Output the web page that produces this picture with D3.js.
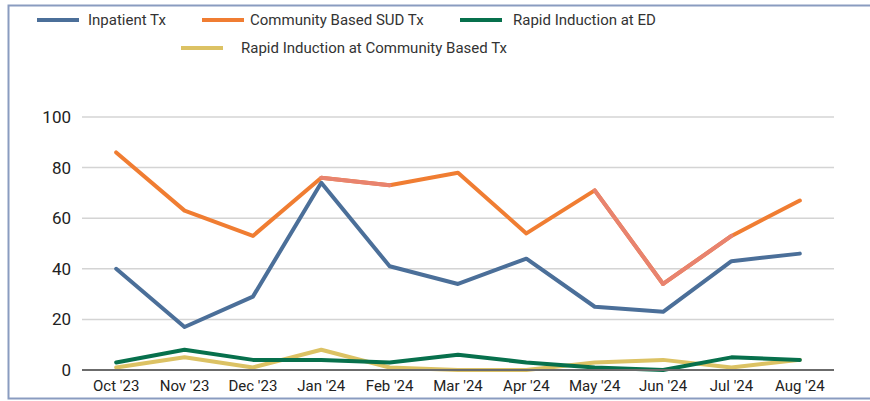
<!DOCTYPE html>
<html>
<head>
<meta charset="utf-8">
<script src="https://cdn.jsdelivr.net/npm/d3@7"></script>
<style>
  body { margin: 0; background: #fff; }
  svg { display: block; font-family: Roboto, "Liberation Sans", sans-serif; }
</style>
</head>
<body>
<svg id="chart" width="870" height="401"></svg>
<script>
const months = ["Oct '23", "Nov '23", "Dec '23", "Jan '24", "Feb '24", "Mar '24", "Apr '24", "May '24", "Jun '24", "Jul '24", "Aug '24"];
const inpatient = [40, 17, 29, 74, 41, 34, 44, 25, 23, 43, 46];
const community = [86, 63, 53, 76, 73, 78, 54, 71, 34, 53, 67];
const rapidED = [3, 8, 4, 4, 3, 6, 3, 1, 0, 5, 4];
const rapidCommunity = [1, 5, 1, 8, 1, 0, 0, 3, 4, 1, 4];
const yTicks = [0, 20, 40, 60, 80, 100];
// segments of the orange line drawn in the lighter salmon tone (index of start point)
const salmonSegments = [3, 7, 8];

const series = [
  {name: "Inpatient Tx", values: inpatient, color: "#4b6f99"},
  {name: "Community Based SUD Tx", values: community, color: "#f07d32"},
  {name: "Rapid Induction at ED", values: rapidED, color: "#07704c"},
  {name: "Rapid Induction at Community Based Tx", values: rapidCommunity, color: "#dcc264"}
];

const svg = d3.select('#chart');

// frame
svg.append('rect')
  .attr('x', 8.5).attr('y', 5.5)
  .attr('width', 900).attr('height', 393)
  .attr('fill', 'none')
  .attr('stroke', '#8a9cc0')
  .attr('stroke-width', 2);

const x = d3.scaleBand().domain(months).range([82, 834]);
const y = d3.scaleLinear().domain([0, 100]).range([370, 117]);

// gridlines
svg.append('g')
  .selectAll('line')
  .data(yTicks.filter(d => d > 0))
  .join('line')
  .attr('x1', 82).attr('x2', 834)
  .attr('y1', d => y(d)).attr('y2', d => y(d))
  .attr('stroke', '#d4d4d4')
  .attr('stroke-width', 1.5);

// y labels
svg.append('g')
  .selectAll('text')
  .data(yTicks)
  .join('text')
  .attr('x', 71)
  .attr('y', d => y(d) + 6)
  .attr('text-anchor', 'end')
  .attr('font-size', 17)
  .attr('fill', '#222')
  .text(d => d);

// x labels
svg.append('g')
  .selectAll('text')
  .data(months)
  .join('text')
  .attr('x', d => x(d) + x.bandwidth() / 2)
  .attr('y', 391)
  .attr('text-anchor', 'middle')
  .attr('font-size', 15)
  .attr('fill', '#222')
  .text(d => d);

const line = d3.line()
  .x((d, i) => x(months[i]) + x.bandwidth() / 2)
  .y(d => y(d));

const lines = svg.append('g').attr('fill', 'none').attr('stroke-width', 4)
  .attr('stroke-linejoin', 'round').attr('stroke-linecap', 'round');

// draw the small series first, then the big ones on top
[series[3], series[2], series[0], series[1]].forEach(s => {
  lines.append('path')
    .attr('d', line(s.values))
    .attr('stroke', s.color);
});

// lighter salmon segments of community line
salmonSegments.forEach(i => {
  const pts = [community[i], community[i + 1]];
  lines.append('path')
    .attr('d', d3.line()
      .x((d, j) => x(months[i + j]) + x.bandwidth() / 2)
      .y(d => y(d))(pts))
    .attr('stroke', '#e8836f');
});

// baseline
svg.append('line')
  .attr('x1', 82).attr('x2', 834)
  .attr('y1', y(0)).attr('y2', y(0))
  .attr('stroke', '#6b6b6b')
  .attr('stroke-width', 2);

// legend
const legendItems = [
  {s: series[0], lx: 37, tx: 88, y: 20},
  {s: series[1], lx: 202, tx: 250, y: 20},
  {s: series[2], lx: 460, tx: 513, y: 20},
  {s: series[3], lx: 181, tx: 241, y: 48}
];
const legend = svg.append('g');
legendItems.forEach(it => {
  legend.append('line')
    .attr('x1', it.lx).attr('x2', it.lx + 42)
    .attr('y1', it.y).attr('y2', it.y)
    .attr('stroke', it.s.color)
    .attr('stroke-width', 4);
  legend.append('text')
    .attr('x', it.tx).attr('y', it.y + 5)
    .attr('font-size', 15)
    .attr('fill', '#333')
    .text(it.s.name);
});
</script>
</body>
</html>
